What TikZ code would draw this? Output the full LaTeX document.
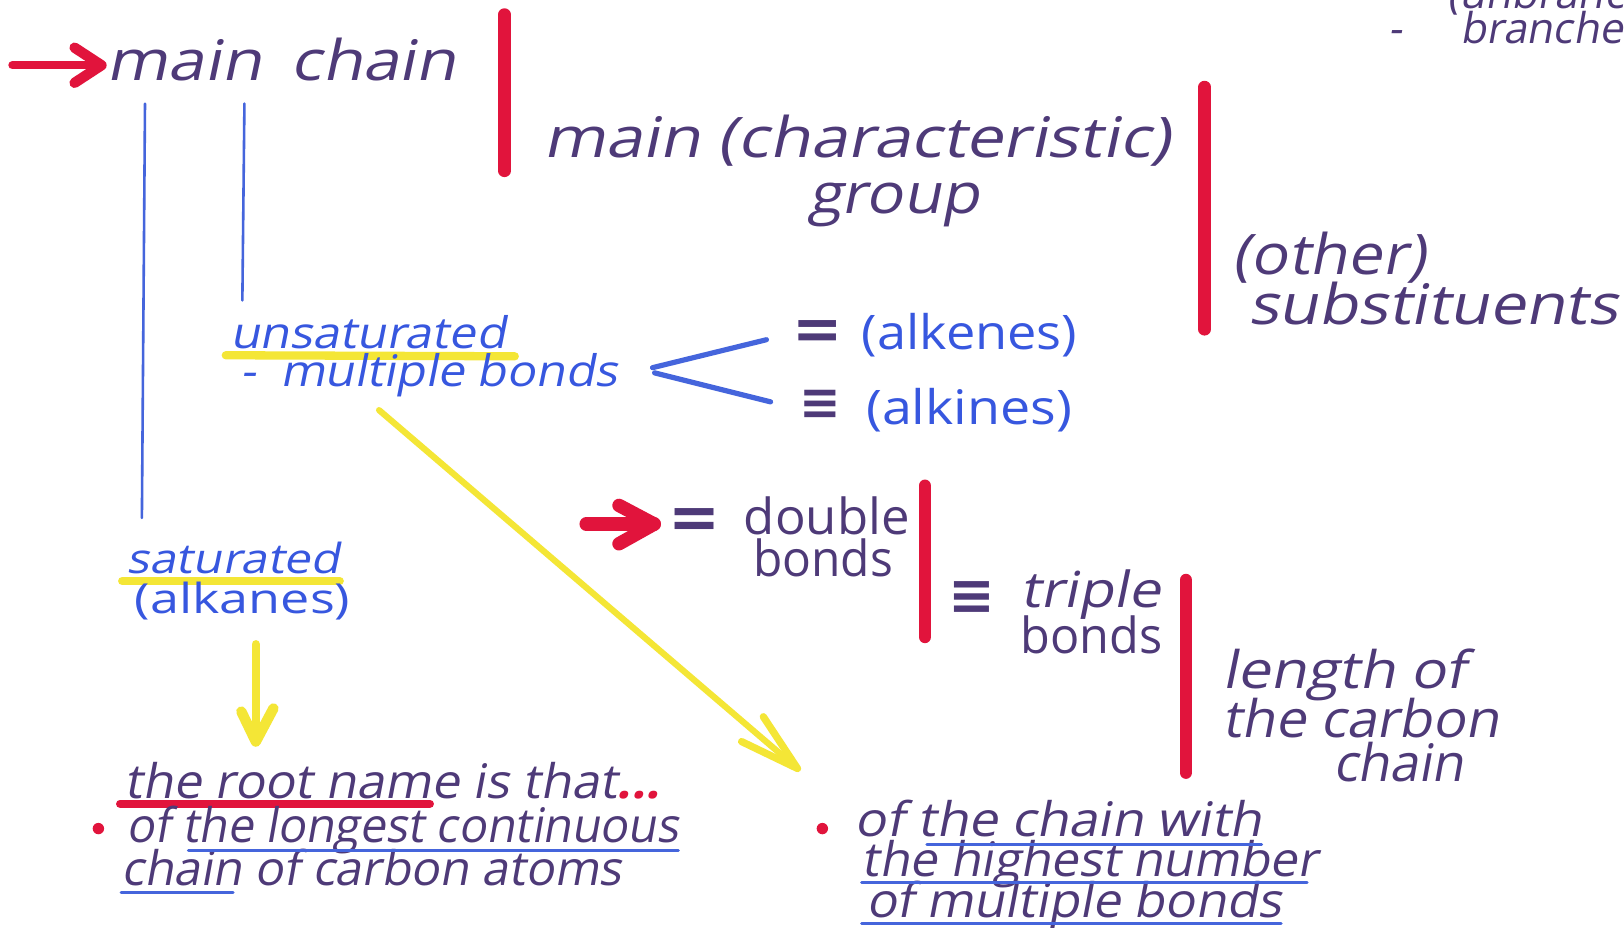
\documentclass[tikz,border=0pt]{standalone}
\usepackage{fontspec}
\usepackage{graphicx}
\usetikzlibrary{calc}
\newfontfamily\handf[FakeSlant=0.18]{Open Sans}
\newfontfamily\uprf{Open Sans}
\newfontfamily\symf{DejaVu Sans}
\definecolor{ink}{HTML}{4E3A78}
\definecolor{bluet}{HTML}{3757DF}
\definecolor{bline}{HTML}{4565DC}
\definecolor{mred}{HTML}{E1143C}
\definecolor{myel}{HTML}{F4E636}
\newcommand\hw[2]{\resizebox{#1pt}{\height}{#2}}
\newcommand\fsz[1]{\fontsize{#1}{#1}\selectfont}
\tikzset{
  txt/.style={inner sep=0pt, anchor=base west, text=ink},
  btxt/.style={txt, text=bluet},
  eqs/.style={inner sep=0pt, anchor=center, text=ink},
  redbar/.style={draw=mred, line width=12pt, line cap=round},
  blueln/.style={draw=bline, line width=2.5pt, line cap=round},
  yell/.style={draw=myel, line cap=round, line join=round},
  redarr/.style={draw=mred, line cap=round, line join=round},
  hlite/.style={line width=8pt, line cap=round},
  uline/.style={draw=bline, line width=3pt, line cap=round},
  bullet/.style={fill=mred, draw=none}
}
\begin{document}
\begin{tikzpicture}[x=1pt,y=-1pt]
\useasboundingbox (0,0) rectangle (1568,896);
\fill[white] (0,0) rectangle (1568,896);
\clip (0,0) rectangle (1568,896);

% ---------- highlights under text ----------
\draw[hlite, draw=myel] (218,343) -- (497,344);
\draw[hlite, draw=myel] (118,561) -- (328,561);
\draw[hlite, draw=mred] (116,776) -- (415,776);

% ---------- texts ----------
\node[txt, font=\handf\fsz{54}] (mc) at (103,78) {\hw{337}{main\hspace{0.45em}chain}};
\node[txt, font=\handf\fsz{54}] (mg1) at (525,152) {\hw{605}{main (characteristic)}};
\node[txt, font=\handf\fsz{54}] (mg2) at (780,206) {\hw{165}{group}};
\node[txt, font=\handf\fsz{54}] (os1) at (1190,265) {\hw{186}{(other)}};
\node[txt, font=\handf\fsz{54}] (os2) at (1205,313) {\hw{357}{substituents}};
\node[txt, font=\handf\fsz{41}] (ub) at (1397,8) {(unbranched};
\node[txt, font=\handf\fsz{41}] (br) at (1340,42) {\makebox[70pt][l]{-}branches};

\node[btxt, font=\handf\fsz{42}] (uns) at (222,336) {\hw{266}{unsaturated}};
\node[btxt, font=\handf\fsz{42}] (mb) at (232,373) {\hw{364}{-\hspace{0.5em}multiple bonds}};
\node[btxt, font=\uprf\fsz{46}] (ake) at (832,337) {\hw{208}{(alkenes)}};
\node[btxt, font=\uprf\fsz{46}] (aki) at (836,410) {\hw{199}{(alkines)}};
\node[eqs, font=\symf\bfseries\fsz{58}] (eq1) at (789,323) {=};
\node[eqs, font=\symf\bfseries\fsz{48}] (eq3a) at (792,391) {≡};

\node[txt, font=\uprf\fsz{48}] (db1) at (718,516) {\hw{160}{double}};
\node[txt, font=\uprf\fsz{48}] (db2) at (727,557) {\hw{135}{bonds}};
\node[eqs, font=\symf\bfseries\fsz{60}] (eq2) at (671,505) {=};
\node[txt, font=\handf\fsz{48}] (tb1) at (985,587) {\hw{135}{triple}};
\node[txt, font=\uprf\fsz{48}] (tb2) at (985,631) {\hw{137}{bonds}};
\node[eqs, font=\symf\bfseries\fsz{54}] (eq3) at (938,577) {≡};

\node[txt, font=\handf\fsz{50}] (ln1) at (1180,665) {\hw{235}{length of}};
\node[txt, font=\handf\fsz{50}] (ln2) at (1180,712) {\hw{267}{the carbon}};
\node[txt, font=\handf\fsz{50}] (ln3) at (1287,755) {\hw{126}{chain}};

\node[btxt, font=\handf\fsz{40}] (sat) at (122,554) {\hw{206}{saturated}};
\node[btxt, font=\uprf\fsz{40}] (alk) at (130,592) {\hw{208}{(alkanes)}};

\node[txt, font=\handf\fsz{46}] (rt) at (120,771) {\hw{517}{the root name is that\textcolor{mred}{\bfseries...}}};
\node[txt, font=\handf\fsz{46}] (lg1) at (122,813) {\hw{533}{of the longest continuous}};
\node[txt, font=\handf\fsz{46}] (lg2) at (117,855) {\hw{483}{chain of carbon atoms}};
\node[txt, font=\handf\fsz{46}] (hi1) at (825,808) {\hw{393}{of the chain with}};
\node[txt, font=\handf\fsz{46}] (hi2) at (832,846) {\hw{440}{the highest number}};
\node[txt, font=\handf\fsz{46}] (hi3) at (836,886) {\hw{401}{of multiple bonds}};

% ---------- underlines ----------
\draw[uline] (182,821) -- (655,821);
\draw[uline] (117,862) -- (225,862);
\draw[uline] (895,815) -- (1218,815);
\draw[uline] (832,852) -- (1262,852);
\draw[uline] (832,892) -- (1237,892);

% ---------- bullets ----------
\fill[bullet] (95,800) circle (5.5);
\fill[bullet] (794,800) circle (5.5);

% ---------- red bars ----------
\draw[redbar] (487,14) -- (487,165);
\draw[redbar] (1163,84) -- (1163,318);
\draw[redbar] (893,469) -- (893,615);
\draw[redbar] (1145,560) -- (1145,746);

% ---------- blue connectors ----------
\coordinate (pA) at (140,100); \coordinate (qA) at (137,500);
\coordinate (pB) at (236,100); \coordinate (qB) at (234,290);
\draw[blueln] (pA) -- (qA);
\draw[blueln] (pB) -- (qB);
\coordinate (vx) at (630,355);
\coordinate (vx2) at (632,360);
\coordinate (ue) at (740,328);
\coordinate (le) at (744,388);
\draw[draw=bline, line width=5pt, line cap=round] (ue) -- (vx);
\draw[draw=bline, line width=5pt, line cap=round] (vx2) -- (le);

% ---------- red arrows ----------
\coordinate (ra1) at (12,63);
\draw[redarr, line width=8pt] (ra1) -- ([xshift=-5pt]ra1 -| mc.west) coordinate (ra1h);
\draw[redarr, line width=10pt] (ra1h) ++(-26,-17) -- (ra1h) -- ++(-26,17);
\coordinate (ra2) at (566,506);
\draw[redarr, line width=13pt] (ra2) -- ([xshift=-14pt]ra2 -| eq2.west) coordinate (ra2h);
\draw[redarr, line width=13pt] (ra2h) ++(-34,-18) -- (ra2h) -- ++(-34,19);

% ---------- yellow arrows ----------
\coordinate (ya1) at (366,396);
\coordinate (ya1h) at (770,742);
\draw[yell, line width=6pt] (ya1) -- (ya1h);
\draw[yell, line width=7pt] (737,692) -- (ya1h) -- (716,716);
\coordinate (ya2) at (247,622);
\coordinate (ya2h) at (247,716);
\draw[yell, line width=8pt] (ya2) -- (ya2h);
\draw[yell, line width=10pt] (233,687) -- (ya2h) -- (264,684);
\end{tikzpicture}
\end{document}
